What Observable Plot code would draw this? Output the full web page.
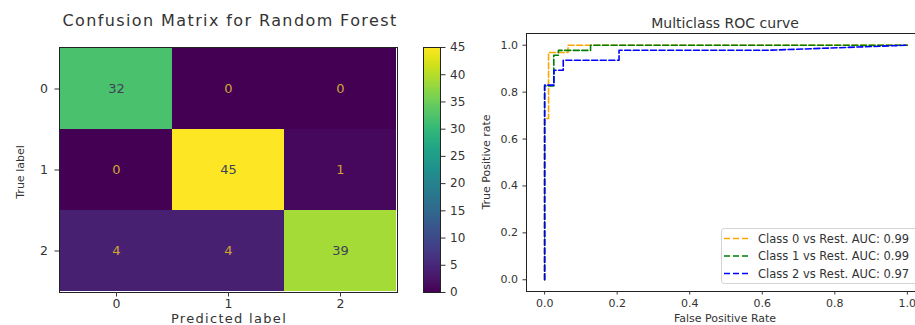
<!DOCTYPE html>
<html><head><meta charset="utf-8">
<script src="https://cdn.jsdelivr.net/npm/d3@7"></script>
<script src="https://cdn.jsdelivr.net/npm/@observablehq/plot@0.6"></script>
<style>
html,body{margin:0;padding:0;background:#fff;}
#root{position:relative;width:915px;height:325px;overflow:hidden;font-family:"DejaVu Sans",sans-serif;color:#333;}
#root svg{position:absolute;top:0;}
.lbl{position:absolute;white-space:nowrap;line-height:1;font-family:"DejaVu Sans",sans-serif;color:#333;}
</style></head><body><div id="root"></div>
<script>
// ---------- data ----------
const classes = ["0", "1", "2"];
const confusion = [
  [32, 0, 0],
  [0, 45, 1],
  [4, 4, 39]
];
const colorTicks = [0, 5, 10, 15, 20, 25, 30, 35, 40, 45];
const rocTicks = [0, 0.2, 0.4, 0.6, 0.8, 1.0];

const class0Fpr = [0, 0, 0.0108, 0.0108, 0.0645, 0.0645, 1];
const class0Tpr = [0, 0.6875, 0.6875, 0.96875, 0.96875, 1, 1];
const class1Fpr = [0, 0, 0.0253, 0.0253, 0.038, 0.038, 0.1266, 0.1266, 1];
const class1Tpr = [0, 0.826, 0.826, 0.957, 0.957, 0.978, 0.978, 1, 1];
const class2Fpr = [0, 0, 0.0256, 0.0256, 0.0513, 0.0513, 0.2051, 0.2051, 0.62, 1];
const class2Tpr = [0, 0.8298, 0.8298, 0.8936, 0.8936, 0.9362, 0.9362, 0.9787, 0.9787, 1];

const legendLabels = ["Class 0 vs Rest. AUC: 0.99", "Class 1 vs Rest. AUC: 0.99", "Class 2 vs Rest. AUC: 0.97"];
const rocColors = ["orange", "green", "blue"];

// ---------- helpers ----------
const root = document.getElementById("root");
function place(svg, left) { svg.style.left = left + "px"; root.appendChild(svg); }
function label(text, cx, baseline, size, extra = {}) {
  const d = document.createElement("div");
  d.className = "lbl";
  d.textContent = text;
  d.style.fontSize = size + "px";
  if (extra.ls) d.style.letterSpacing = extra.ls + "px";
  if (extra.rotate) {
    d.style.left = cx + "px";
    d.style.top = baseline + "px";
    d.style.transform = "translate(-50%,-50%) rotate(-90deg)";
  } else {
    d.style.left = cx + "px";
    d.style.top = (baseline - 0.846 * size) + "px";
    d.style.transform = "translateX(-50%)";
  }
  root.appendChild(d);
  return d;
}
const baseStyle = {fontFamily: "DejaVu Sans", color: "#333", background: "none", overflow: "visible"};
const viridis = {type: "linear", scheme: "viridis", domain: [0, 45]};

// ---------- confusion matrix ----------
const cells = [];
confusion.forEach((row, i) => row.forEach((v, j) => cells.push({t: classes[i], p: classes[j], v})));

const heat = Plot.plot({
  width: 415, height: 325,
  marginLeft: 59, marginRight: 18, marginTop: 47, marginBottom: 33,
  style: {...baseStyle, fontSize: "12px"},
  x: {domain: classes, padding: 0, label: null},
  y: {domain: classes, padding: 0, label: null},
  color: viridis,
  marks: [
    Plot.cell(cells, {x: "p", y: "t", fill: "v"}),
    Plot.text(cells, {x: "p", y: "t", text: d => String(d.v), fill: d => d.v > 22.5 ? "#3f4257" : "#cfa437", fontSize: 13}),
    Plot.frame({stroke: "#222"}),
    Plot.axisX({tickSize: 4.5, tickPadding: 2, label: null, fontSize: 12.5}),
    Plot.axisY({tickSize: 4.5, tickPadding: 7, label: null, fontSize: 12.5})
  ]
});
place(heat, 0);

// ---------- colorbar ----------
const barMark = Plot.raster
  ? Plot.raster({x1: 0, x2: 1, y1: 0, y2: 45, width: 1, height: 256, fill: (x, y) => y, imageRendering: "auto"})
  : Plot.rect(d3.range(0, 45, 0.25), {x1: 0, x2: 1, y1: d => d, y2: d => d + 0.3, fill: d => d});
const cbar = Plot.plot({
  width: 80, height: 325,
  marginLeft: 23, marginRight: 40, marginTop: 47, marginBottom: 33,
  style: {...baseStyle, fontSize: "12px"},
  x: {domain: [0, 1], axis: null},
  y: {domain: [0, 45], label: null},
  color: viridis,
  marks: [
    barMark,
    Plot.frame({stroke: "#222"}),
    Plot.axisY(colorTicks, {anchor: "right", tickSize: 4.5, tickPadding: 5, label: null, fontSize: 12})
  ]
});
place(cbar, 400);

// ---------- ROC ----------
const rocSeries = [
  {fpr: class0Fpr, tpr: class0Tpr},
  {fpr: class1Fpr, tpr: class1Tpr},
  {fpr: class2Fpr, tpr: class2Tpr}
];
const roc = Plot.plot({
  width: 480, height: 325,
  marginLeft: 66, marginRight: 15, marginTop: 33, marginBottom: 34,
  style: {...baseStyle, fontSize: "11px"},
  x: {domain: [-0.05, 1.05], label: null},
  y: {domain: [-0.05, 1.05], label: null},
  marks: [
    Plot.frame({stroke: "#222"}),
    ...rocSeries.map((s, k) => Plot.line(s.fpr.map((f, i) => ({fpr: f, tpr: s.tpr[i]})),
      {x: "fpr", y: "tpr", stroke: rocColors[k], strokeWidth: 1.6, strokeDasharray: "6,2.6"})),
    Plot.axisX(rocTicks, {tickSize: 3.5, tickPadding: 4, tickFormat: d3.format(".1f"), label: null, fontSize: 11}),
    Plot.axisY(rocTicks, {tickSize: 3.5, tickPadding: 5, tickFormat: d3.format(".1f"), label: null, fontSize: 11})
  ]
});
place(roc, 460);

// ---------- legend ----------
const leg = document.createElement("div");
Object.assign(leg.style, {position: "absolute", left: "721px", top: "228px", width: "220px", height: "56px",
  border: "1px solid #d4d4d4", borderRadius: "3px", background: "rgba(255,255,255,0.85)", boxSizing: "border-box"});
root.appendChild(leg);
const legSvg = d3.create("svg").attr("width", 230).attr("height", 60)
  .style("position", "absolute").style("left", "-1px").style("top", "-1px");
legendLabels.forEach((t, k) => {
  const cy = 10.5 + k * 17.5;
  legSvg.append("line").attr("x1", 3).attr("x2", 27).attr("y1", cy).attr("y2", cy)
    .attr("stroke", rocColors[k]).attr("stroke-width", 1.6).attr("stroke-dasharray", "6,3");
  legSvg.append("text").attr("x", 37).attr("y", cy + 4.2).attr("font-size", 11.5)
    .attr("font-family", "DejaVu Sans").attr("fill", "#333").text(t);
});
leg.appendChild(legSvg.node());

// ---------- titles & axis labels ----------
label("Confusion Matrix for Random Forest", 230, 26.5, 16, {ls: 1.4});
label("Predicted label", 229, 323, 13, {ls: 1.3});
label("True label", 20, 172, 11, {rotate: true});
label("Multiclass ROC curve", 725, 27.5, 14);
label("False Positive Rate", 725, 322.5, 11);
label("True Positive rate", 486, 162, 11, {rotate: true});
</script></body></html>
